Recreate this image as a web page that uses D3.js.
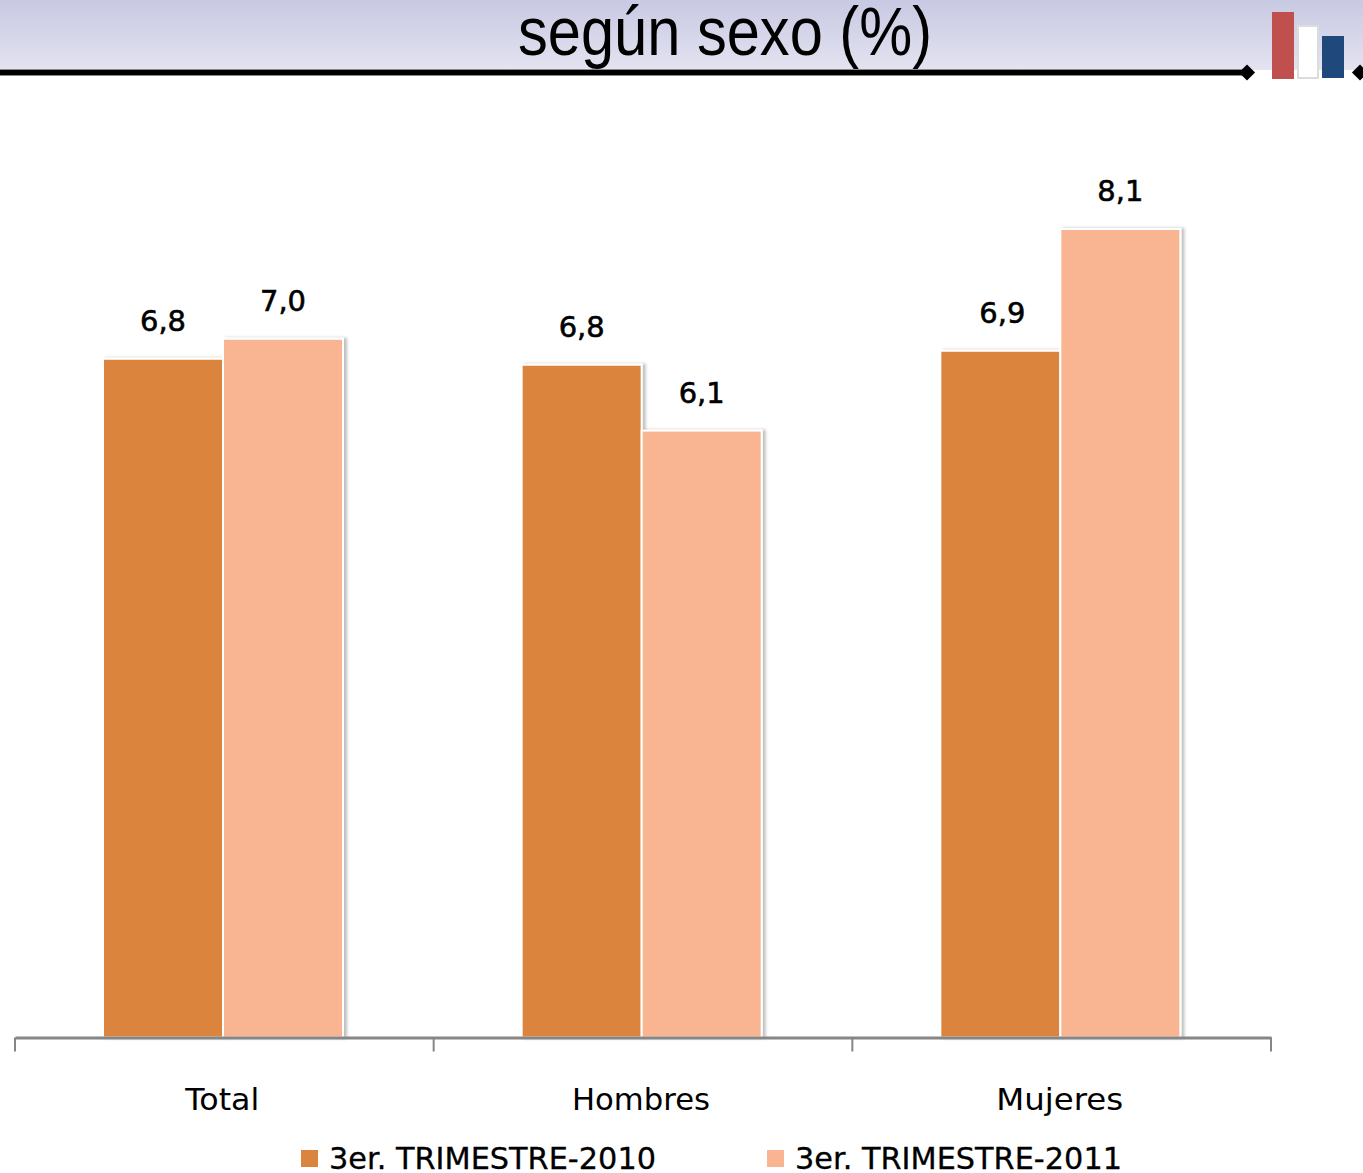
<!DOCTYPE html>
<html><head><meta charset="utf-8">
<script src="https://cdn.jsdelivr.net/npm/d3@7"></script>
<style>html,body{margin:0;padding:0;background:#fff;overflow:hidden}svg{display:block}</style>
</head><body><div id="c"></div>
<script>
const categories = ["Total","Hombres","Mujeres"];
const series = ["3er. TRIMESTRE-2010","3er. TRIMESTRE-2011"];
const values2010 = [6.8,6.74,6.88];
const values2011 = [7.0,6.08,8.1];
const labels2010 = ["6,8","6,8","6,9"];
const labels2011 = ["7,0","6,1","8,1"];
const iconValues = [67,53,43];
const colors = ["#db843d","#f9b591"];
const iconColors = ["#c0504d","#ffffff","#1f497d"];
const titleText = "según sexo (%)";

const W=1363,H=1173,base=1037.5;
const svg=d3.select("#c").append("svg").attr("width",W).attr("height",H);
const defs=svg.append("defs");
const g=defs.append("linearGradient").attr("id","hd").attr("x1",0).attr("x2",0).attr("y1",0).attr("y2",1);
g.append("stop").attr("offset",0).attr("stop-color","#c8c9e2");
g.append("stop").attr("offset",1).attr("stop-color","#e3e3f1");
const f=defs.append("filter").attr("id","sh").attr("x","-8%").attr("y","-2%").attr("width","116%").attr("height","104%");
f.append("feDropShadow").attr("dx",3).attr("dy",0).attr("stdDeviation",1.5).attr("flood-color","#000").attr("flood-opacity",0.25);

// header
svg.append("rect").attr("width",W).attr("height",70).attr("fill","url(#hd)");
svg.append("text").attr("x",725).attr("y",55).attr("text-anchor","middle")
  .attr("font-family","'Liberation Sans'").attr("font-size",68).attr("textLength",414).attr("lengthAdjust","spacingAndGlyphs").attr("fill","#000").text(titleText);
svg.append("rect").attr("x",0).attr("y",69).attr("width",1245).attr("height",7).attr("fill","#8a8a8a");
svg.append("rect").attr("x",0).attr("y",70).attr("width",1245).attr("height",5).attr("fill","#000");
[[1247,72.5],[1360,72.5]].forEach(([x,y])=>svg.append("path").attr("d",d3.symbol(d3.symbolSquare,130)()).attr("transform",`translate(${x},${y}) rotate(45)`).attr("fill","#000"));

// icon
const ix=d3.scaleBand().domain(d3.range(iconValues.length)).range([1272,1344]).paddingInner(0.12);
const iy=d3.scaleLinear().domain([0,67]).range([79,12]);
svg.append("g").selectAll("rect").data(iconValues).join("rect")
  .attr("x",(d,i)=>ix(i)+(i==1?1:0)).attr("y",d=>iy(d))
  .attr("width",(d,i)=>ix.bandwidth()-(i==1?2:0)).attr("height",(d,i)=>79-iy(d)-(i==0?0:1))
  .attr("fill",(d,i)=>iconColors[i]).attr("stroke",(d,i)=>i==1?"#dcdcdc":"none").attr("stroke-width",2);

// chart
const x0=d3.scaleBand().domain(categories).range([15,1271]);
const x1=d3.scaleBand().domain(series).range([88,328]);
const y=d3.scaleLinear().domain([0,8.1]).range([base,229]);
const rows=[[values2010,labels2010],[values2011,labels2011]];
rows.forEach(([vals,labs],s)=>{
  svg.append("g").selectAll("rect").data(vals).join("rect")
    .attr("x",(d,i)=>x0(categories[i])+x1(series[s])).attr("y",d=>y(d))
    .attr("width",x1.bandwidth()).attr("height",d=>base-y(d))
    .attr("fill",colors[s]).attr("stroke","#fff").attr("stroke-width",2).attr("filter","url(#sh)");
});
rows.forEach(([vals,labs],s)=>{
  svg.append("g").selectAll("text").data(labs).join("text")
    .attr("x",(d,i)=>x0(categories[i])+x1(series[s])+x1.bandwidth()/2+(s==0&&i==2?2:0))
    .attr("y",(d,i)=>y(vals[i])-28)
    .attr("text-anchor","middle").attr("font-family","'DejaVu Sans'").attr("font-size",29)
    .attr("textLength",46).attr("lengthAdjust","spacingAndGlyphs").attr("fill","#000")
    .attr("stroke","#000").attr("stroke-width",0.6).text(d=>d);
});

// axis
const axis=d3.axisBottom(x0).tickValues([]).tickSize(0);
const ag=svg.append("g").attr("transform",`translate(0,${base})`).call(axis);
ag.select(".domain").attr("stroke","#868686").attr("stroke-width",3);
const edges=x0.domain().map(c=>x0(c)).concat(x0.range()[1]);
ag.selectAll("line.t").data(edges).join("line").attr("class","t").attr("x1",d=>d).attr("x2",d=>d).attr("y1",0).attr("y2",14).attr("stroke","#868686").attr("stroke-width",2);
svg.append("g").selectAll("text").data(categories).join("text")
  .attr("x",d=>x0(d)+x0.bandwidth()/2-2).attr("y",1110).attr("text-anchor","middle")
  .attr("font-family","'DejaVu Sans'").attr("font-size",30).attr("fill","#000")
  .each(function(d){d3.select(this).attr("textLength",{Total:74,Hombres:138,Mujeres:127}[d]).attr("lengthAdjust","spacingAndGlyphs")}).text(d=>d);

// legend
const lx=d3.scaleOrdinal().domain(series).range([301,767]);
series.forEach((s,i)=>{
  svg.append("rect").attr("x",lx(s)).attr("y",1150).attr("width",17).attr("height",17).attr("fill",colors[i]);
  svg.append("text").attr("x",lx(s)+28).attr("y",1169).attr("font-family","'DejaVu Sans'").attr("font-size",30)
    .attr("textLength",327).attr("lengthAdjust","spacingAndGlyphs").attr("fill","#000").attr("stroke","#000").attr("stroke-width",0.3).text(s);
});
</script></body></html>
